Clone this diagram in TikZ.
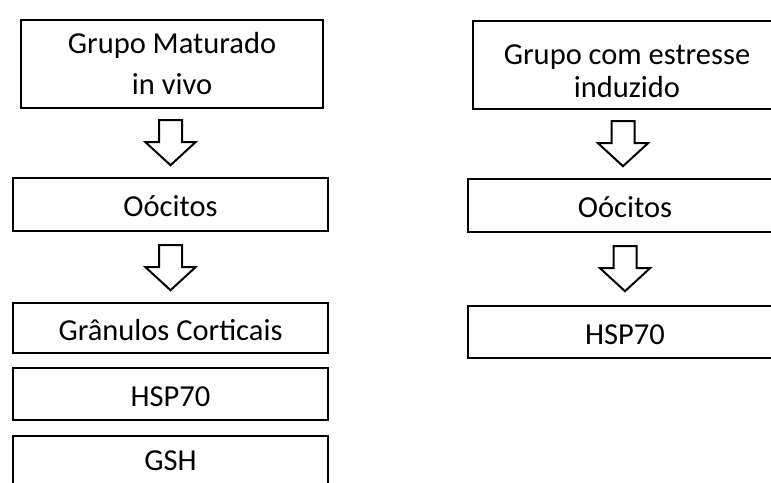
\documentclass[tikz,border=0pt]{standalone}
\usepackage{fontspec}
\setmainfont{Carlito}
\usetikzlibrary{calc}
\tikzset{
  flowbox/.style={draw, line width=2.4pt, inner sep=0pt, align=center,
    font=\fontsize{30.5}{41}\selectfont},
  onebox/.style={flowbox, text height=24pt, text depth=0pt},
  barrow/.pic={\draw[line width=2pt, line join=miter]
    (-11.5,0) -- (11.5,0) -- (11.5,22) -- (25,22) -- (0,45) -- (-25,22) -- (-11.5,22) -- cycle;}
}
\begin{document}
\begin{tikzpicture}[x=1pt,y=-1pt]
\useasboundingbox (0,0) rectangle (771,482);
\clip (0,0) rectangle (771,482);
% left column
\node[flowbox, minimum width=302pt, minimum height=88pt] (L1) at (172,64) {Grupo Maturado\\in vivo};
\node[onebox, minimum width=315pt, minimum height=53pt] (L2) at (170.5,204.5) {Oócitos};
\node[onebox, minimum width=315pt, minimum height=50pt] (L3) at (170.5,328) {Grânulos Corticais};
\node[onebox, minimum width=315pt, minimum height=52pt] (L4) at (170.5,394) {HSP70};
\node[onebox, minimum width=315pt, minimum height=68pt, text height=1pt] (L5) at (170.5,470) {GSH};
% right column
\node[flowbox, font=\fontsize{30.5}{33}\selectfont, minimum width=308pt, minimum height=88pt] (R1) at (627,65) {\rule{0pt}{33pt}Grupo com estresse\\induzido};
\node[onebox, minimum width=314pt, minimum height=53pt] (R2) at (625,205.5) {Oócitos};
\node[onebox, minimum width=314pt, minimum height=52pt] (R3) at (625,332) {HSP70};
% block arrows
\pic at ($(L1.south)+(-1.5,11)$) {barrow};
\pic at ($(L2.south)+(0,13)$) {barrow};
\pic at ($(R1.south)+(-4,11)$) {barrow};
\pic at ($(R2.south)+(0,13)$) {barrow};
\end{tikzpicture}
\end{document}
